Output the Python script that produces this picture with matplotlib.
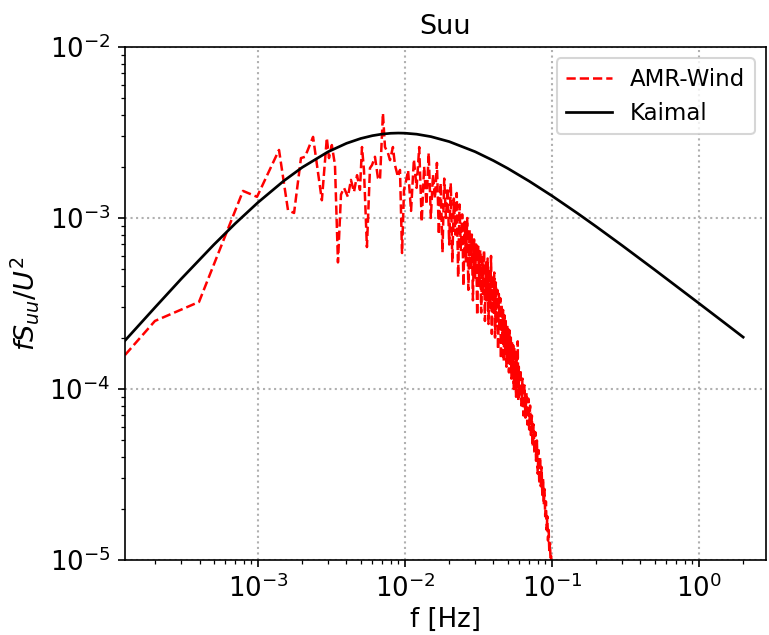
import matplotlib
matplotlib.use("Agg")
import matplotlib.pyplot as plt
import numpy as np

# Kaimal model curve
kaimal_f = [1.245e-4, 2e-4, 3e-4, 5e-4, 7e-4, 1e-3, 1.5e-3, 2e-3, 3e-3, 4e-3, 5e-3,
            6e-3, 7e-3, 8e-3, 9e-3, 1e-2, 1.2e-2, 1.5e-2, 2e-2, 3e-2, 4e-2, 5e-2,
            7e-2, 0.1, 0.15, 0.2, 0.3, 0.5, 0.7, 1.0, 1.5, 2.0]
kaimal_s = [1.92e-4, 3.01e-4, 4.40e-4, 6.97e-4, 9.28e-4, 1.233e-3, 1.650e-3, 1.977e-3,
            2.440e-3, 2.733e-3, 2.917e-3, 3.030e-3, 3.096e-3, 3.129e-3, 3.139e-3,
            3.133e-3, 3.092e-3, 2.992e-3, 2.797e-3, 2.442e-3, 2.165e-3, 1.951e-3,
            1.642e-3, 1.348e-3, 1.062e-3, 8.91e-4, 6.91e-4, 4.98e-4, 4.00e-4,
            3.17e-4, 2.43e-4, 2.01e-4]

# AMR-Wind spectrum, low-frequency part (individual points)
amr_f_low = [1.245e-4, 1.99e-4, 3.97e-4, 7.91e-4, 9.85e-4, 1.39e-3, 1.60e-3, 1.76e-3,
             1.96e-3, 2.09e-3, 2.37e-3, 2.72e-3, 2.94e-3, 3.04e-3, 3.18e-3, 3.34e-3,
             3.50e-3, 3.67e-3, 3.85e-3, 4.09e-3, 4.29e-3, 4.50e-3, 4.72e-3, 4.94e-3,
             5.10e-3, 5.26e-3, 5.51e-3, 5.78e-3, 5.97e-3, 6.25e-3, 6.55e-3, 6.76e-3,
             7.08e-3, 7.31e-3, 7.66e-3, 7.91e-3, 8.28e-3, 8.55e-3, 8.96e-3, 9.25e-3,
             9.55e-3, 9.85e-3, 1.02e-2]
amr_s_low = [1.58e-4, 2.50e-4, 3.23e-4, 1.44e-3, 1.33e-3, 2.50e-3, 1.11e-3, 1.07e-3,
             2.24e-3, 2.28e-3, 2.98e-3, 1.27e-3, 2.94e-3, 2.24e-3, 2.67e-3, 2.04e-3,
             5.50e-4, 1.37e-3, 1.50e-3, 1.33e-3, 1.67e-3, 1.42e-3, 1.78e-3, 1.46e-3,
             2.60e-3, 1.91e-3, 6.76e-4, 1.96e-3, 2.04e-3, 2.28e-3, 1.71e-3, 1.67e-3,
             4.10e-3, 2.60e-3, 2.40e-3, 2.18e-3, 2.60e-3, 2.04e-3, 1.74e-3, 1.91e-3,
             6.24e-4, 1.46e-3, 1.67e-3]

# AMR-Wind spectrum, mid-frequency noisy band
amr_f_mid = [0.0105, 0.0110, 0.0115, 0.0120, 0.0125, 0.0130, 0.0135, 0.0140, 0.0145, 0.0150,
             0.0155, 0.0160, 0.0165, 0.0170, 0.0175, 0.0180, 0.0185, 0.0190, 0.0195, 0.0200,
             0.0205, 0.0210, 0.0215, 0.0220, 0.0225, 0.0230, 0.0235, 0.0240, 0.0245, 0.0250,
             0.0255, 0.0260, 0.0265, 0.0270, 0.0275, 0.0280, 0.0285, 0.0290, 0.0295, 0.0300,
             0.0305, 0.0310, 0.0315, 0.0320, 0.0325, 0.0330, 0.0335, 0.0340, 0.0345, 0.0350,
             0.0355, 0.0360, 0.0365, 0.0370, 0.0375, 0.0380, 0.0385, 0.0390, 0.0395, 0.0400,
             0.0405, 0.0410, 0.0415, 0.0420, 0.0425, 0.0430, 0.0435, 0.0440, 0.0445, 0.0450,
             0.0455, 0.0460, 0.0465, 0.0470, 0.0475, 0.0480, 0.0485, 0.0490, 0.0495, 0.0500,
             0.0505, 0.0510, 0.0515, 0.0520, 0.0525, 0.0530, 0.0535, 0.0540, 0.0545, 0.0550,
             0.0555, 0.0560, 0.0565, 0.0570, 0.0575, 0.0580, 0.0585, 0.0590, 0.0595, 0.0600]
amr_s_mid = [1.9e-3, 1.1e-3, 2.2e-3, 1.5e-3, 2.6e-3, 9.5e-4, 2.0e-3, 1.2e-3, 2.4e-3, 1.0e-3,
             1.8e-3, 1.3e-3, 2.1e-3, 8.0e-4, 1.6e-3, 6.3e-4, 1.7e-3, 1.0e-3, 1.5e-3, 7.0e-4,
             1.6e-3, 5.5e-4, 1.3e-3, 8.0e-4, 1.4e-3, 4.5e-4, 1.2e-3, 6.5e-4, 1.05e-3, 4.0e-4,
             9.5e-4, 5.5e-4, 1.0e-3, 3.8e-4, 8.5e-4, 5.0e-4, 8.0e-4, 3.3e-4, 7.5e-4, 4.5e-4,
             7.0e-4, 2.7e-4, 6.8e-4, 4.0e-4, 6.5e-4, 2.8e-4, 6.0e-4, 3.6e-4, 6.5e-4, 2.5e-4,
             5.5e-4, 3.3e-4, 5.8e-4, 2.4e-4, 5.0e-4, 3.0e-4, 6.0e-4, 2.1e-4, 4.6e-4, 2.8e-4,
             4.8e-4, 2.0e-4, 4.2e-4, 2.4e-4, 3.8e-4, 1.7e-4, 3.6e-4, 2.2e-4, 3.4e-4, 1.5e-4,
             3.1e-4, 1.9e-4, 2.9e-4, 1.45e-4, 2.7e-4, 1.7e-4, 2.5e-4, 1.35e-4, 2.4e-4, 1.5e-4,
             2.3e-4, 1.25e-4, 2.2e-4, 1.4e-4, 2.0e-4, 1.15e-4, 1.9e-4, 1.25e-4, 1.8e-4, 1.0e-4,
             1.75e-4, 1.1e-4, 1.6e-4, 9.0e-5, 1.5e-4, 1.0e-4, 1.9e-4, 8.5e-5, 1.35e-4, 9.0e-5]

# AMR-Wind spectrum, high-frequency roll-off
amr_f_high = [0.061, 0.062, 0.063, 0.064, 0.065, 0.066, 0.067, 0.068, 0.069, 0.070,
              0.071, 0.072, 0.073, 0.074, 0.075, 0.076, 0.077, 0.078, 0.079, 0.080,
              0.081, 0.082, 0.083, 0.084, 0.085, 0.086, 0.087, 0.088, 0.089, 0.090,
              0.091, 0.092, 0.093, 0.094, 0.095, 0.096, 0.097, 0.098, 0.099, 0.100,
              0.101, 0.105]
amr_s_high = [1.3e-4, 8.0e-5, 1.15e-4, 7.0e-5, 1.05e-4, 6.8e-5, 9.5e-5, 6.2e-5, 8.8e-5, 5.8e-5,
              8.0e-5, 5.2e-5, 7.0e-5, 4.6e-5, 6.2e-5, 4.2e-5, 5.6e-5, 3.8e-5, 5.0e-5, 3.2e-5,
              4.4e-5, 2.8e-5, 4.0e-5, 2.7e-5, 3.5e-5, 2.4e-5, 3.0e-5, 2.1e-5, 2.6e-5, 1.8e-5,
              2.2e-5, 1.5e-5, 1.8e-5, 1.3e-5, 1.5e-5, 1.1e-5, 1.25e-5, 9.5e-6, 1.05e-5, 8.5e-6,
              7.0e-6, 5.0e-6]

amr_f = amr_f_low + amr_f_mid + amr_f_high
amr_s = amr_s_low + amr_s_mid + amr_s_high

fig = plt.figure(figsize=(769 / 150, 635 / 150), dpi=150)
ax = fig.add_axes([125 / 769, 75 / 635, 641 / 769, 513 / 635])

ax.loglog(amr_f, amr_s, color="red", linestyle="--", linewidth=1.2, label="AMR-Wind")
ax.loglog(kaimal_f, kaimal_s, color="black", linewidth=1.3, label="Kaimal")

ax.set_xlim(1.245e-4, 2.86)
ax.set_ylim(1e-5, 1e-2)
ax.grid(True, which="major", linestyle=":", color="#b0b0b0", linewidth=1.0)
ax.tick_params(axis="both", which="major", labelsize=12.5)
ax.set_title("Suu", fontsize=13)
ax.set_xlabel("f [Hz]", fontsize=12.5, labelpad=2)
ax.set_ylabel(r"$fS_{uu}/U^2$", fontsize=13)
ax.legend(loc="upper right", fontsize=11)

fig.savefig("out.png", dpi=150)
